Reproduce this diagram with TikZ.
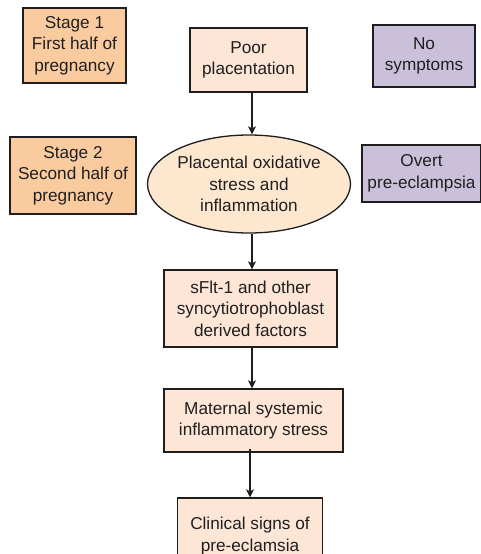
\documentclass[tikz,border=0pt]{standalone}
\usepackage{fontspec}
\setmainfont{Liberation Sans}
\usetikzlibrary{shapes.geometric,arrows.meta}

\definecolor{stageorange}{HTML}{FBCBA0}
\definecolor{palepeach}{HTML}{FDE6D6}
\definecolor{ovalpeach}{HTML}{FDE8CF}
\definecolor{lilac}{HTML}{CBC0DA}
\definecolor{edge}{HTML}{1E1E1E}

\begin{document}
\begin{tikzpicture}[x=1pt,y=-1pt,
    box/.style={draw=edge,line width=1.3pt,align=center,inner sep=0pt,text=black!88,
        font=\fontsize{17.2}{21.5}\selectfont},
    stagebox/.style={box,fill=stageorange},
    flowbox/.style={box,fill=palepeach},
    outbox/.style={box,fill=lilac},
    arr/.style={-{Stealth[length=8pt,width=8pt,inset=2pt]},line width=2pt,draw=edge}]
    \useasboundingbox (0,0) rectangle (481,554);
    % stages on the left
    \node[stagebox,minimum width=103pt,minimum height=75pt] (stage1) at (74.5,45.5) {Stage 1\\First half of\\pregnancy};
    \node[stagebox,minimum width=126pt,minimum height=77pt] (stage2) at (73,175.5) {Stage 2\\Second half of\\pregnancy};
    % main flow
    \node[flowbox,minimum width=117pt,minimum height=64pt] (poor) at (248.5,60) {Poor\\placentation};
    \node[box,ellipse,fill=ovalpeach,minimum width=203pt,minimum height=98pt] (oxid) at (249,184) {Placental oxidative\\stress and\\inflammation};
    \node[flowbox,minimum width=173pt,minimum height=77pt] (sflt) at (250.5,308.5) {sFlt-1 and other\\syncytiotrophoblast\\derived factors};
    \node[flowbox,minimum width=179pt,minimum height=63pt] (mat) at (253.5,420.5) {Maternal systemic\\inflammatory stress};
    \node[flowbox,minimum width=145pt,minimum height=76pt] (clin) at (250,536) {Clinical signs of\\pre-eclamsia};
    % outcomes on the right
    \node[outbox,minimum width=102pt,minimum height=62pt] (nosym) at (424,56) {No\\symptoms};
    \node[outbox,minimum width=119pt,minimum height=57pt] (overt) at (421.5,173.5) {Overt\\pre-eclampsia};
    % arrows
    \coordinate (spine) at (252,0);
    \draw[arr] (poor.south -| spine) -- (oxid.north -| spine);
    \draw[arr] (oxid.south -| spine) -- (sflt.north -| spine);
    \draw[arr] (sflt.south -| spine) -- (mat.north -| spine);
    \draw[arr] ([yshift=4pt]mat.south -| clin.north) -- (clin.north);
\end{tikzpicture}
\end{document}
